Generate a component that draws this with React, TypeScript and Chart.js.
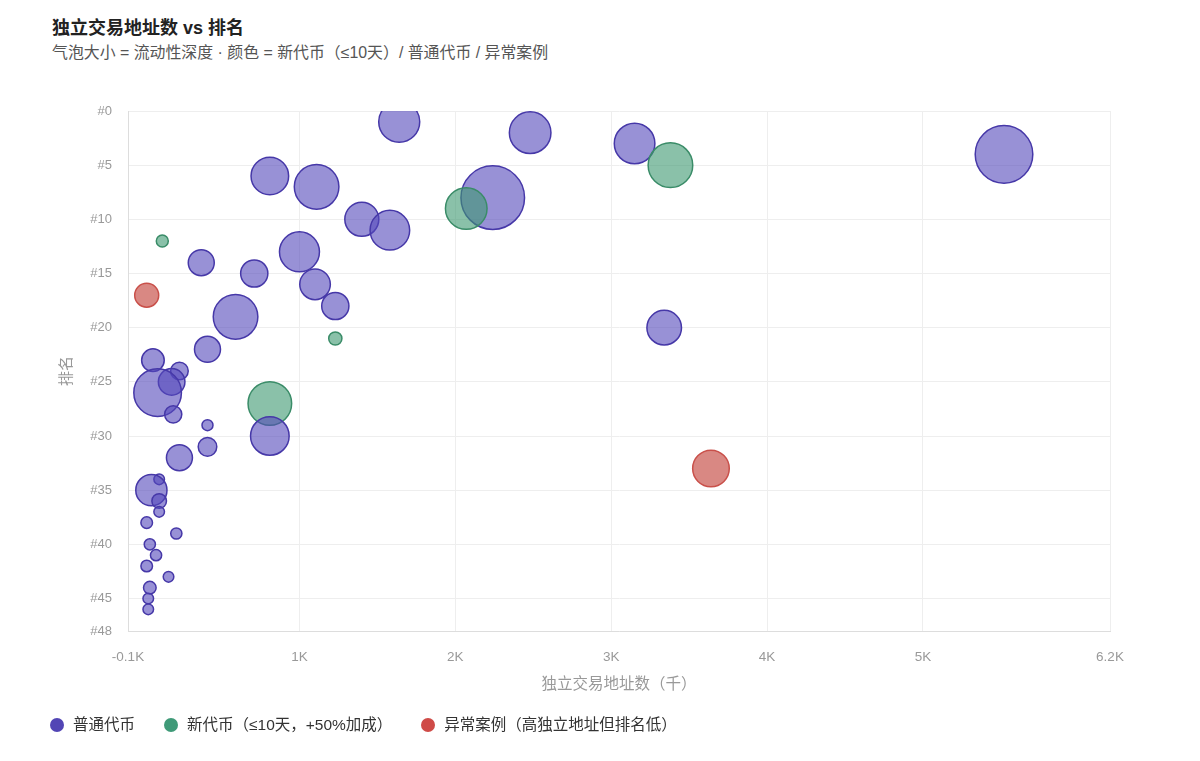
import { useEffect, useRef } from "react";
import { Chart, registerables } from "chart.js";

Chart.register(...registerables);

// 普通代币: 独立交易地址数（千）, 排名, 流动性深度
const normalX = [1.64, 2.48, 3.15, 5.52, 0.81, 1.11, 2.24, 1.4, 1.58, 1.0, 1.1, 1.23, 0.71, 0.37, 0.59, 3.34, 0.41, 0.06, 0.23, 0.18, 0.09, 0.19, 0.81, 0.41, 0.41, 0.23, 0.05, 0.1, 0.1, 0.1, 0.02, 0.21, 0.04, 0.08, 0.02, 0.16, 0.04, 0.03, 0.03];
const normalRank = [1, 2, 3, 4, 6, 7, 8, 10, 11, 13, 16, 18, 15, 14, 19, 20, 22, 23, 24, 25, 26, 28, 30, 29, 31, 32, 35, 34, 36, 37, 38, 39, 40, 41, 42, 43, 44, 45, 46];
const normalDepth = [20.5, 20.8, 20.3, 28.8, 18.8, 22.3, 31.8, 17, 19.8, 20, 15.3, 13.6, 13.6, 13, 22.3, 17.3, 13, 11.3, 8.8, 13.3, 23.8, 8.6, 19.3, 5.5, 9.3, 13, 15.6, 5.3, 7.3, 5.3, 5.8, 5.6, 5.6, 5.6, 5.8, 5.3, 6.3, 5.3, 5.3];

// 新代币（≤10天）
const newX = [3.38, 2.07, 0.12, 1.23, 0.81];
const newRank = [5, 9, 12, 21, 27];
const newDepth = [22.3, 20.8, 6, 6.6, 21.8];

// 异常案例
const anomalyX = [0.02, 3.64];
const anomalyRank = [17, 33];
const anomalyDepth = [12, 18.3];

const xTicks = [-0.1, 1, 2, 3, 4, 5, 6.2];
const yTicks = [0, 5, 10, 15, 20, 25, 30, 35, 40, 45, 48];

const categoryNames = ["普通代币", "新代币（≤10天，+50%加成）", "异常案例（高独立地址但排名低）"];
const categoryFill = ["rgba(84, 72, 186, 0.6)", "rgba(60, 152, 112, 0.6)", "rgba(196, 72, 64, 0.65)"];
const categoryBorder = ["#4638a8", "#3a8c68", "#c9504a"];
const categoryDot = ["#5245b5", "#3f9a78", "#cf4b47"];

const FONT = '"Liberation Sans", "Noto Sans CJK SC", sans-serif';

export default function App() {
  const canvasRef = useRef<HTMLCanvasElement | null>(null);

  useEffect(() => {
    if (!canvasRef.current) return;
    type P = { x: number; y: number; r: number; c: number };
    const pts: P[] = [];
    normalX.forEach((x, i) => pts.push({ x, y: normalRank[i], r: normalDepth[i], c: 0 }));
    newX.forEach((x, i) => pts.push({ x, y: newRank[i], r: newDepth[i], c: 1 }));
    anomalyX.forEach((x, i) => pts.push({ x, y: anomalyRank[i], r: anomalyDepth[i], c: 2 }));
    pts.sort((a, b) => a.y - b.y);

    const chart = new Chart(canvasRef.current, {
      type: "bubble",
      data: {
        datasets: [
          {
            data: pts.map((p) => ({ x: p.x, y: p.y, r: p.r })),
            backgroundColor: pts.map((p) => categoryFill[p.c]),
            borderColor: pts.map((p) => categoryBorder[p.c]),
            borderWidth: 1.5,
            clip: 0,
          } as any,
        ],
      },
      options: {
        responsive: false,
        animation: false,
        devicePixelRatio: 1,
        layout: { padding: { left: 52, right: 90, top: 111, bottom: 61 } },
        plugins: {
          legend: { display: false },
          title: { display: false },
          tooltip: { enabled: false },
        },
        scales: {
          x: {
            type: "linear",
            min: -0.1,
            max: 6.2,
            afterBuildTicks: (s: any) => {
              s.ticks = xTicks.map((v) => ({ value: v }));
            },
            afterFit: (s: any) => {
              s.height = 69;
            },
            ticks: {
              callback: (v: any) => `${v}K`,
              color: "#999",
              font: { family: FONT, size: 13.5 },
              padding: 18,
              autoSkip: false,
              maxRotation: 0,
            },
            grid: { color: "#eeeeee", drawTicks: false },
            border: { color: "#dddddd" },
            title: {
              display: true,
              text: "独立交易地址数（千）",
              color: "#999",
              font: { family: FONT, size: 15.5 },
              padding: { top: 0, bottom: 6 },
            },
          },
          y: {
            type: "linear",
            min: 0,
            max: 48,
            reverse: true,
            afterBuildTicks: (s: any) => {
              s.ticks = yTicks.map((v) => ({ value: v }));
            },
            afterFit: (s: any) => {
              s.width = 76;
            },
            ticks: {
              callback: (v: any) => `#${v}`,
              color: "#999",
              font: { family: FONT, size: 13 },
              padding: 16,
              autoSkip: false,
            },
            grid: { color: "#eeeeee", drawTicks: false },
            border: { color: "#dddddd" },
            title: {
              display: true,
              text: "排名",
              color: "#999",
              font: { family: FONT, size: 15 },
              padding: { top: 6, bottom: 0 },
            },
          },
        },
      },
    });
    return () => chart.destroy();
  }, []);

  return (
    <div style={{ position: "absolute", left: 0, top: 0, width: 1200, height: 761, background: "#ffffff", fontFamily: FONT }}>
      <div style={{ position: "absolute", left: 52, top: 17, fontSize: 18, fontWeight: "bold", color: "#222", lineHeight: "22px", whiteSpace: "nowrap" }}>
        独立交易地址数 vs 排名
      </div>
      <div style={{ position: "absolute", left: 52, top: 44, fontSize: 15.9, color: "#555", lineHeight: "18px", whiteSpace: "nowrap" }}>
        气泡大小 = 流动性深度 · 颜色 = 新代币（≤10天）/ 普通代币 / 异常案例
      </div>
      <canvas ref={canvasRef} width={1200} height={761} style={{ position: "absolute", left: 0, top: 0, width: 1200, height: 761 }} />
      <div style={{ position: "absolute", left: 50, top: 715, height: 20, display: "flex", alignItems: "center", gap: 29, whiteSpace: "nowrap" }}>
        {categoryNames.map((n, i) => (
          <div key={n} style={{ display: "flex", alignItems: "center" }}>
            <span style={{ display: "inline-block", width: 14, height: 14, borderRadius: 7, background: categoryDot[i], marginRight: 9 }} />
            <span style={{ fontSize: 15.5, color: "#333", lineHeight: "20px" }}>{n}</span>
          </div>
        ))}
      </div>
    </div>
  );
}
